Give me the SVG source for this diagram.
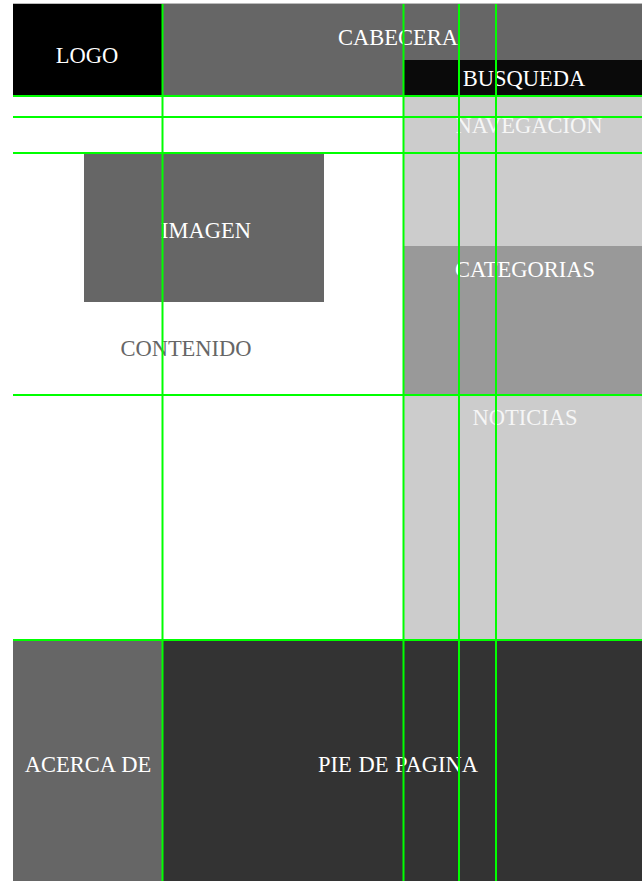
<svg xmlns="http://www.w3.org/2000/svg" width="642" height="881" viewBox="0 0 642 881">
<style>
text{font-family:"Liberation Serif","Times New Roman",serif;font-size:22.5px;text-anchor:middle;fill:#fff}
text.dark{fill:#666}
text.pale{fill:#f6f6f6}
.g{stroke:#00ff00;stroke-width:2;fill:none}
</style>
<rect x="0" y="0" width="642" height="881" fill="#fff"/>
<line x1="13" y1="3.5" x2="642" y2="3.5" stroke="#bbb" stroke-width="1"/>
<g id="logo"><rect x="13" y="4" width="149" height="92" fill="#000"/><text x="87" y="63">LOGO</text></g>
<g id="cabecera"><rect x="162" y="4" width="480" height="92" fill="#666"/><text x="398" y="45">CABECERA</text></g>
<g id="busqueda"><rect x="404" y="60" width="238" height="36" fill="#0a0a0a"/><text x="524" y="86">BUSQUEDA</text></g>
<g id="navegacion"><rect x="404" y="96" width="238" height="150" fill="#ccc"/><text class="pale" x="529" y="133">NAVEGACION</text></g>
<g id="categorias"><rect x="404" y="246" width="238" height="149" fill="#999"/><text x="525" y="277">CATEGORIAS</text></g>
<g id="noticias"><rect x="404" y="395" width="238" height="245" fill="#ccc"/><text class="pale" x="525" y="425">NOTICIAS</text></g>
<g id="contenido"><rect x="13" y="96" width="391" height="544" fill="#fff"/><text class="dark" x="186" y="356">CONTENIDO</text></g>
<g id="imagen"><rect x="84" y="154" width="240" height="148" fill="#666"/><text x="206" y="238">IMAGEN</text></g>
<g id="acerca"><rect x="13" y="640" width="149" height="241" fill="#666"/><text x="88" y="772" word-spacing="1">ACERCA DE</text></g>
<g id="pie"><rect x="162" y="640" width="480" height="241" fill="#333"/><text x="398" y="772" word-spacing="1">PIE DE PAGINA</text></g>
<g id="connectors" class="g">
<line x1="13" y1="96" x2="642" y2="96"/>
<line x1="13" y1="117" x2="642" y2="117"/>
<line x1="13" y1="153" x2="642" y2="153"/>
<line x1="13" y1="395" x2="642" y2="395"/>
<line x1="13" y1="640" x2="642" y2="640"/>
<line x1="162.5" y1="4" x2="162.5" y2="881"/>
<line x1="403.5" y1="4" x2="403.5" y2="881"/>
<line x1="459" y1="4" x2="459" y2="881"/>
<line x1="496" y1="4" x2="496" y2="881"/>
</g>
</svg>
